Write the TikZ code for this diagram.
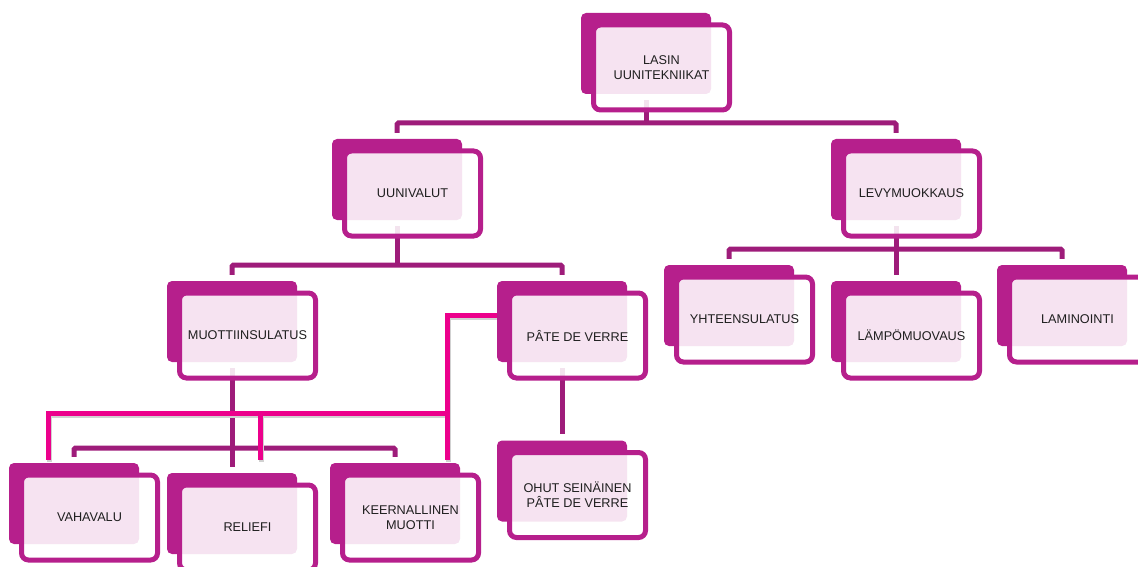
\documentclass[tikz,border=0pt]{standalone}
\usepackage{fontspec}
\setmainfont{Liberation Sans}
\usetikzlibrary{backgrounds}

\definecolor{smmag}{RGB}{182,31,140}
\definecolor{smlink}{RGB}{158,28,122}
\definecolor{smpink}{RGB}{236,0,140}

\tikzset{
	backbox/.style={fill=smmag, rounded corners=5pt, minimum width=130pt,
	minimum height=81pt, inner sep=0pt},
	frontbox/.style={draw=smmag, line width=5pt, fill=white, fill opacity=0.88,
	text opacity=1, rounded corners=7pt, minimum width=136pt,
	minimum height=85pt, inner sep=2pt, align=center, text=black!88,
	font=\fontsize{12.7}{15}\selectfont},
	link/.style={draw=smlink, line width=5pt, rounded corners=1.5pt},
	pinklink/.style={draw=smpink, line width=5pt,
	preaction={draw=black!18, line width=5pt,
	transform canvas={shift={(1.5pt,-2pt)}}}},
}

\begin{document}
\begin{tikzpicture}[x=1pt, y=-1pt]
	\useasboundingbox (0,0) rectangle (1138,567);
	\clip (0,0) rectangle (1138,567);

	% Ebene 0
	\node[backbox] (lasin-b) at (646,53.5) {};
	\node[frontbox] (lasin) at ([shift={(15.5pt,-14pt)}]lasin-b) {LASIN\\UUNITEKNIIKAT};

	% Ebene 1
	\node[backbox] (uuni-b) at (397,179.5) {};
	\node[frontbox] (uuni) at ([shift={(15.5pt,-14pt)}]uuni-b) {UUNIVALUT};
	\node[backbox] (levy-b) at (896,179.5) {};
	\node[frontbox] (levy) at ([shift={(15.5pt,-14pt)}]levy-b) {LEVYMUOKKAUS};

	% Ebene 2
	\node[backbox] (muotti-b) at (232,321.5) {};
	\node[frontbox] (muotti) at ([shift={(15.5pt,-14pt)}]muotti-b) {MUOTTIINSULATUS};
	\node[backbox] (pate-b) at (562,321.5) {};
	\node[frontbox] (pate) at ([shift={(15.5pt,-14pt)}]pate-b) {PÂTE DE VERRE};
	\node[backbox] (yhteen-b) at (729,305.5) {};
	\node[frontbox] (yhteen) at ([shift={(15.5pt,-14pt)}]yhteen-b) {YHTEENSULATUS};
	\node[backbox] (lampo-b) at (896,321.5) {};
	\node[frontbox] (lampo) at ([shift={(15.5pt,-14pt)}]lampo-b) {LÄMPÖMUOVAUS};
	\node[backbox] (lamin-b) at (1062,305.5) {};
	\node[frontbox] (lamin) at ([shift={(15.5pt,-14pt)}]lamin-b) {LAMINOINTI};

	% Ebene 3
	\node[backbox] (ohut-b) at (562,481) {};
	\node[frontbox] (ohut) at ([shift={(15.5pt,-14pt)}]ohut-b) {OHUT SEINÄINEN\\PÂTE DE VERRE};
	\node[backbox] (vaha-b) at (74,503.5) {};
	\node[frontbox] (vaha) at ([shift={(15.5pt,-14pt)}]vaha-b) {VAHAVALU};
	\node[backbox] (relief-b) at (232,513.5) {};
	\node[frontbox] (relief) at ([shift={(15.5pt,-14pt)}]relief-b) {RELIEFI};
	\node[backbox] (keern-b) at (395,503.5) {};
	\node[frontbox] (keern) at ([shift={(15.5pt,-14pt)}]keern-b) {KEERNALLINEN\\MUOTTI};

	\begin{scope}[on background layer]
		% Hoehen der Querbalken
		\coordinate (ebene1) at (0,123);
		\coordinate (ebene2) at (0,265);
		\coordinate (ebene2r) at (0,249);
		\coordinate (ebene3) at (0,448);

		% Verbindungen
		\draw[link] ([yshift=-6pt]lasin-b.south) -- (lasin-b.south |- ebene1);
		\draw[link] ([yshift=6pt]uuni-b.north) -- (uuni-b.north |- ebene1)
		-- (levy-b.north |- ebene1) -- ([yshift=6pt]levy-b.north);

		\draw[link] ([yshift=-6pt]uuni-b.south) -- (uuni-b.south |- ebene2);
		\draw[link] ([yshift=6pt]muotti-b.north) -- (muotti-b.north |- ebene2)
		-- (pate-b.north |- ebene2) -- ([yshift=6pt]pate-b.north);

		\draw[link] ([yshift=-6pt]levy-b.south) -- ([yshift=6pt]lampo-b.north);
		\draw[link] ([yshift=6pt]yhteen-b.north) -- (yhteen-b.north |- ebene2r)
		-- (lamin-b.north |- ebene2r) -- ([yshift=6pt]lamin-b.north);

		\draw[link] ([yshift=-6pt]pate-b.south) -- ([yshift=6pt]ohut-b.north);

		\draw[link] ([yshift=-6pt]muotti-b.south) -- ([yshift=6pt]relief-b.north);
		\draw[link] ([yshift=6pt]vaha-b.north) -- (vaha-b.north |- ebene3)
		-- (keern-b.north |- ebene3) -- ([yshift=6pt]keern-b.north);

		% Pinke Verbindungen
		\coordinate (pinkknick) at (447,413);
		\coordinate (pinkast) at (260,413);
		\draw[pinklink] ([shift={(3pt,6pt)}]pate-b.west)
		-| ([shift={(52pt,3pt)}]keern-b.north)
		(pinkknick) -| ([shift={(-26pt,3pt)}]vaha-b.north)
		(pinkast) -- ([shift={(28pt,13pt)}]relief-b.north);
	\end{scope}
\end{tikzpicture}
\end{document}
